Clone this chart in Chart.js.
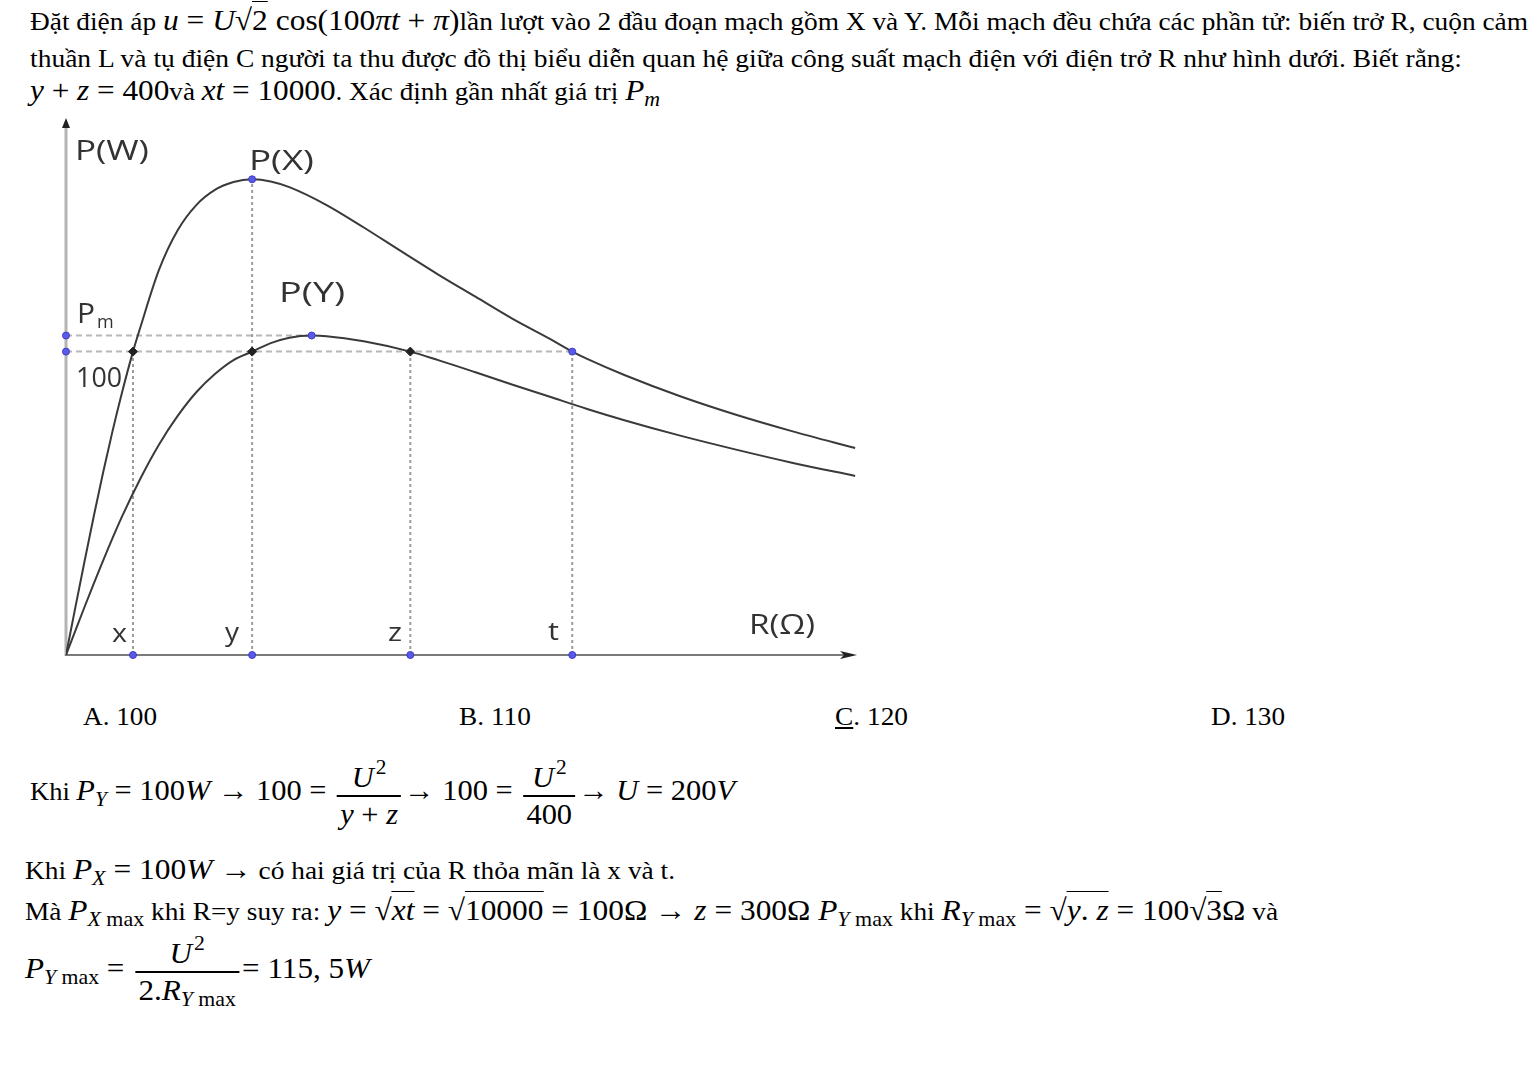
<!DOCTYPE html>
<html><head><meta charset="utf-8">
<script src="https://cdn.jsdelivr.net/npm/chart.js@4.4.0/dist/chart.umd.min.js"></script>
<style>
html,body{margin:0;padding:0;background:#fff;width:1539px;height:1074px;overflow:hidden;}
body{font-family:'Liberation Serif','Times New Roman',serif;color:#000;position:relative;}
.ln{position:absolute;white-space:nowrap;font-size:26px;line-height:1.1;transform-origin:0 0;left:0;top:0;}
.bl{display:inline-block;width:0;height:0;}
.mt{font-size:1.15em;font-family:'Liberation Serif',serif;}
.i{font-style:italic;}
.sb{font-size:0.7em;vertical-align:-0.28em;}
.sp{font-size:0.7em;vertical-align:0.6em;margin-left:2px;}
.frac{display:inline-block;vertical-align:middle;text-align:center;margin:0 3px;}
.frac .n{display:block;padding:0 3px 2px 3px;line-height:1.08;}
.frac .d{display:block;border-top:2px solid #000;padding:1px 3px 0 3px;line-height:1.08;}
.ov{border-top:1.6px solid #000;padding-top:1px;}
#wrap{position:absolute;left:0;top:100px;width:900px;height:580px;}
</style></head>
<body>
<div class="ln" data-l="30" data-b="30" data-w="1498"><span class="bl"></span>Đặt điện áp <span class="mt"><i>u</i> = <i>U</i>√<span class="ov">2</span> cos(100<i>πt</i> + <i>π</i>)</span>lần lượt vào 2 đầu đoạn mạch gồm X và Y. Mỗi mạch đều chứa các phần tử: biến trở R, cuộn cảm</div>
<div class="ln" data-l="30" data-b="67" data-w="1432"><span class="bl"></span>thuần L và tụ điện C người ta thu được đồ thị biểu diễn quan hệ giữa công suất mạch điện với điện trở R như hình dưới. Biết rằng:</div>
<div class="ln" data-l="30" data-b="100" data-w="630"><span class="bl"></span><span class="mt"><i>y</i> + <i>z</i> = 400</span>và <span class="mt"><i>xt</i> = 10000</span>. Xác định gần nhất giá trị <span class="mt"><i>P</i><span class="sb"><i>m</i></span></span></div>

<div class="ln" data-l="83" data-b="725" data-w="74"><span class="bl"></span>A. 100</div>
<div class="ln" data-l="459" data-b="725" data-w="72"><span class="bl"></span>B. 110</div>
<div class="ln" data-l="835" data-b="725" data-w="73"><span class="bl"></span><u>C</u>. 120</div>
<div class="ln" data-l="1211" data-b="725" data-w="74"><span class="bl"></span>D. 130</div>

<div class="ln" data-l="30" data-b="800" data-w="705"><span class="bl"></span>Khi <span class="mt"><i>P</i><span class="sb"><i>Y</i></span> = 100<i>W</i> → 100 = <span class="frac"><span class="n"><i>U</i><span class="sp">2</span></span><span class="d"><i>y</i> + <i>z</i></span></span>→ 100 = <span class="frac"><span class="n"><i>U</i><span class="sp">2</span></span><span class="d">400</span></span>→ <i>U</i> = 200<i>V</i></span></div>
<div class="ln" data-l="25" data-b="879" data-w="650"><span class="bl"></span>Khi <span class="mt"><i>P</i><span class="sb"><i>X</i></span> = 100<i>W</i> →</span> có hai giá trị của R thỏa mãn là x và t.</div>
<div class="ln" data-l="25" data-b="920" data-w="1253"><span class="bl"></span>Mà <span class="mt"><i>P</i><span class="sb"><i>X</i> max</span></span> khi R=y suy ra: <span class="mt"><i>y</i> = √<span class="ov"><i>xt</i></span> = √<span class="ov">10000</span> = 100Ω → <i>z</i> = 300Ω <i>P</i><span class="sb"><i>Y</i> max</span></span> khi <span class="mt"><i>R</i><span class="sb"><i>Y</i> max</span> = √<span class="ov"><i>y</i>. <i>z</i></span> = 100√<span class="ov">3</span>Ω</span> và</div>
<div class="ln" data-l="25" data-b="978" data-w="345"><span class="bl"></span><span class="mt"><i>P</i><span class="sb"><i>Y</i> max</span> = <span class="frac"><span class="n"><i>U</i><span class="sp">2</span></span><span class="d">2.<i>R</i><span class="sb"><i>Y</i> max</span></span></span>= 115, 5<i>W</i></span></div>

<div id="wrap"><canvas id="c"></canvas></div>

<script>
// ---- data (R in Ω-like units, P in W) ----
const R_X = [0,5,10,15,20,25,30,36,40,50,60,70,80,90,100,110,120,140,160,180,200,220,240,260,272,280,300,330,360,390,424];
const P_X = [0,15.6,31,46,60.3,73.8,86.3,100,108.1,127,140,148.3,153.3,155.9,156.8,156.1,154.2,148.3,140.9,133.1,125.4,118.1,110.8,104.2,100,97.6,92.3,85.3,79.2,73.8,68.2];
const R_Y = [0,10,20,30,40,50,60,70,80,90,100,110,120,132,140,160,185,200,220,240,260,280,300,330,360,390,424];
const P_Y = [0,15.9,31.2,45.5,58.2,69.4,78.8,86.6,92.6,97.2,100,102.8,104.6,105.3,105.1,103.4,100,97.2,93.2,89.1,85.1,81.1,77.4,72.3,67.7,63.4,59];
const keyNames = ['x','y','z','t'];
const keyR = [36,100,185,272];
const keyTopP = [100,156.8,100,100];
const levelNames = ['Pm','100'];
const levelP = [105.3,100];
const levelEndR = [132,272];
const maxX = [100,156.8];   // [R, P] of P(X) maximum
const maxY = [132,105.3];   // [R, P] of P(Y) maximum
const crossR = [36,100,185]; // dark intersection points at P = 100
const axisMaxR = 425, axisMaxP = 177;

// ---- text placement (baseline / fit width) ----
document.querySelectorAll('.ln').forEach(el=>{
  el.style.left = el.dataset.l+'px';
  const m = el.querySelector('.bl');
  const off = m.getBoundingClientRect().top - el.getBoundingClientRect().top;
  el.style.top = (+el.dataset.b - off)+'px';
  const nat = el.getBoundingClientRect().width;
  el.style.transform = 'scaleX('+(+el.dataset.w/nat)+')';
});

const chartLabels = [
  {t:'P(W)', r:4.8, p:163.2, w:74, s:27},
  {t:'P(X)', r:98.3, p:159.9, w:65, s:27},
  {t:'P(Y)', r:114.5, p:116.3, w:66, s:27},
  {t:'P', r:5.9, p:109.4, w:18, s:27, sub:'m'},
  {t:'100', r:5.4, p:88.3, w:46, s:27},
  {t:keyNames[0], r:24.7, p:4.3, w:15, s:26},
  {t:keyNames[1], r:85.4, p:4.6, w:14, s:26},
  {t:keyNames[2], r:173, p:4.6, w:14, s:26},
  {t:keyNames[3], r:259, p:4.9, w:11, s:26},
  {t:'R(Ω)', r:367, p:6.9, w:66, s:27}
];

const deco = {
  id:'deco',
  beforeDatasetsDraw(chart){
    const {ctx, scales:{x,y}} = chart;
    const x0=x.getPixelForValue(0), y0=y.getPixelForValue(0);
    const yt=y.getPixelForValue(axisMaxP), xr=x.getPixelForValue(axisMaxR);
    ctx.save();
    ctx.strokeStyle='#b4b4b4'; ctx.lineWidth=3;
    ctx.beginPath(); ctx.moveTo(x0,y0+1); ctx.lineTo(x0,yt+6); ctx.stroke();
    ctx.fillStyle='#222';
    ctx.beginPath(); ctx.moveTo(x0,yt); ctx.lineTo(x0-4,yt+10); ctx.lineTo(x0+4,yt+10); ctx.closePath(); ctx.fill();
    ctx.strokeStyle='#7a7a7a'; ctx.lineWidth=2;
    ctx.beginPath(); ctx.moveTo(x0-1,y0); ctx.lineTo(xr-8,y0); ctx.stroke();
    ctx.beginPath(); ctx.moveTo(xr,y0); ctx.lineTo(xr-17,y0-4); ctx.lineTo(xr-13,y0); ctx.lineTo(xr-17,y0+4); ctx.closePath(); ctx.fill();
    ctx.restore();
  },
  afterDatasetsDraw(chart){
    const {ctx, scales:{x,y}} = chart;
    ctx.save();
    ctx.fillStyle='#333'; ctx.textBaseline='alphabetic';
    chartLabels.forEach(L=>{
      const px=x.getPixelForValue(L.r), py=y.getPixelForValue(L.p);
      ctx.font=L.s+'px "Open Sans", "DejaVu Sans", sans-serif';
      const mw=ctx.measureText(L.t).width;
      ctx.save(); ctx.translate(px,py); ctx.scale(L.w/mw,1); ctx.fillText(L.t,0,0); ctx.restore();
      if(L.sub){
        ctx.font='18px "Open Sans", "DejaVu Sans", sans-serif';
        ctx.fillText(L.sub,px+L.w+2,py+5);
      }
    });
    ctx.restore();
  }
};

const pts = (rs,ps)=>rs.map((r,i)=>({x:r,y:ps[i]}));
const datasets = [];
// points (top)
datasets.push({label:'blue', data:[{x:0,y:levelP[0]},{x:0,y:levelP[1]},{x:maxX[0],y:maxX[1]},{x:maxY[0],y:maxY[1]},{x:keyR[3],y:levelP[1]}].concat(keyR.map(r=>({x:r,y:0}))),
  showLine:false, pointRadius:3.5, pointBackgroundColor:'#5a5ae6', pointBorderColor:'#3c3cc8', pointBorderWidth:1, clip:false, order:0});
datasets.push({label:'dark', data:crossR.map(r=>({x:r,y:levelP[1]})), showLine:false, pointRadius:4.5, pointStyle:'rectRot',
  pointBackgroundColor:'#222', pointBorderColor:'#222', clip:false, order:0});
// curves
datasets.push({label:'P(X)', data:pts(R_X,P_X), showLine:true, borderColor:'#3a3a3a', borderWidth:2, pointRadius:0, cubicInterpolationMode:'monotone', order:1});
datasets.push({label:'P(Y)', data:pts(R_Y,P_Y), showLine:true, borderColor:'#3a3a3a', borderWidth:2, pointRadius:0, cubicInterpolationMode:'monotone', order:1});
// guides
keyR.forEach((r,i)=>datasets.push({label:'v'+keyNames[i], data:[{x:r,y:0},{x:r,y:keyTopP[i]}], showLine:true, borderColor:'#9c9c9c', borderWidth:2, borderDash:[3,3], pointRadius:0, order:2}));
levelP.forEach((p,i)=>datasets.push({label:'h'+levelNames[i], data:[{x:0,y:p},{x:levelEndR[i],y:p}], showLine:true, borderColor:'#b8b8b8', borderWidth:2, borderDash:[6,4], pointRadius:0, order:2}));

new Chart(document.getElementById('c'), {
  type:'scatter',
  data:{datasets},
  options:{
    responsive:true, maintainAspectRatio:false, animation:false, events:[],
    layout:{padding:{left:66,right:43,top:18,bottom:25}},
    scales:{
      x:{type:'linear',min:0,max:axisMaxR,display:false},
      y:{type:'linear',min:0,max:axisMaxP,display:false}
    },
    plugins:{legend:{display:false},tooltip:{enabled:false}}
  },
  plugins:[deco]
});
</script>
</body></html>
